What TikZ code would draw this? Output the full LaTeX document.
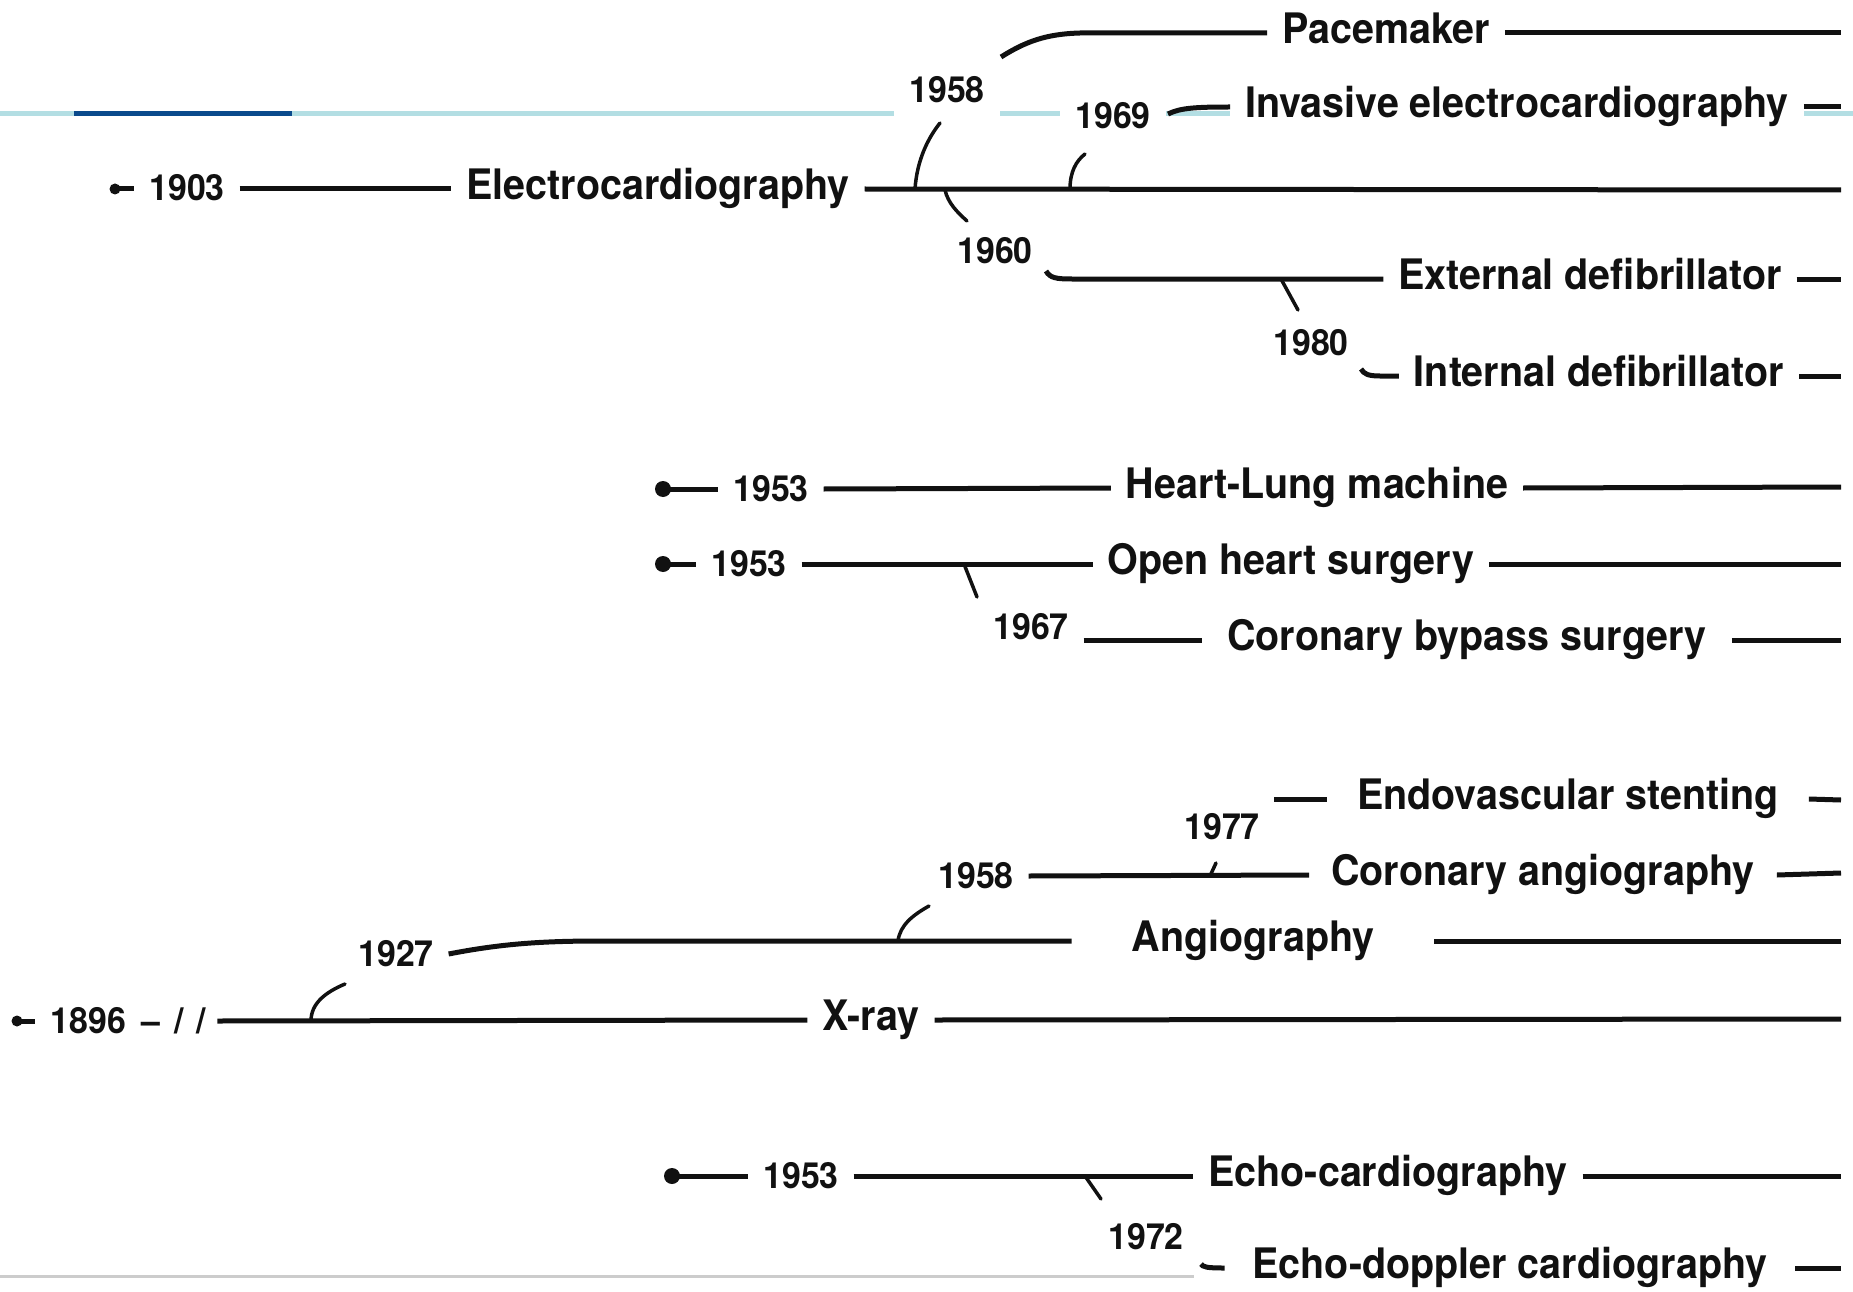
\documentclass[tikz,border=0pt]{standalone}
\usepackage{fontspec}
\newfontfamily\heros{TeX Gyre Heros}[FakeStretch=0.94]
\definecolor{ink}{HTML}{111111}
\definecolor{paleband}{HTML}{B3DEE3}
\definecolor{deepband}{HTML}{0A4A8C}
\definecolor{rulegray}{HTML}{CCCCCC}
\begin{document}
\begin{tikzpicture}[x=1pt,y=-1pt,
  lbl/.style={font=\heros\bfseries\fontsize{42pt}{46pt}\selectfont, text=ink,
    text height=30pt, text depth=9pt, inner xsep=15pt, inner ysep=0pt,
    outer sep=0pt, fill=white},
  yr/.style={lbl, font=\heros\bfseries\fontsize{36pt}{40pt}\selectfont,
    text height=26pt, text depth=2pt},
  dotnode/.style={circle, fill=ink, inner sep=0pt, minimum size=16pt},
  smalldot/.style={dotnode, minimum size=11pt},
  stem/.style={draw=ink, line width=5pt},
  twig/.style={draw=ink, line width=3.5pt, line cap=round}]
\useasboundingbox (0,0) rectangle (1853,1292);

% header band and bottom rule
\draw[paleband, line width=5pt] (0,113.5) -- (1853,113.5);
\draw[deepband, line width=5pt] (74,113.5) -- (292,113.5);
\draw[rulegray, line width=3pt] (0,1276) -- (1194,1276);

% ---------- electrocardiography family ----------
\node[smalldot] (d1903) at (115,189) {};
\node[yr] (y1903) at (187,189) {1903};
\node[lbl] (ecg) at (658,189) {Electrocardiography};
\coordinate (ecgR) at (1841,190);

\node[yr, inner ysep=14pt] (y1958a) at (947,91) {1958};
\node[lbl] (pace) at (1386,33) {Pacemaker};
\coordinate (paceR) at (1841,33);

\node[yr, inner ysep=4pt] (y1969) at (1113,117) {1969};
\node[lbl, inner ysep=4pt] (inv) at (1517,107) {Invasive electrocardiography};
\coordinate (invR) at (1841,107);

\node[yr] (y1960) at (995,252) {1960};
\node[lbl] (ext) at (1590,279) {External defibrillator};
\coordinate (extR) at (1841,279);

\node[yr] (y1980) at (1311,343) {1980};
\node[lbl] (int) at (1599,376) {Internal defibrillator};
\coordinate (intR) at (1841,376);

% ---------- surgery family ----------
\node[dotnode] (d1953a) at (663,489) {};
\node[yr] (y1953a) at (771,489) {1953};
\node[lbl] (hl) at (1317,488) {Heart-Lung machine};
\coordinate (hlR) at (1841,487);

\node[dotnode] (d1953b) at (663,564) {};
\node[yr] (y1953b) at (749,564) {1953};
\node[lbl] (oh) at (1291,564) {Open heart surgery};
\coordinate (ohR) at (1841,564);

\node[yr] (y1967) at (1031,627) {1967};
\node[lbl, inner xsep=25pt] (cb) at (1467,640) {Coronary bypass surgery};
\coordinate (cbR) at (1841,640);

% ---------- imaging family ----------
\node[lbl, inner xsep=30pt] (ev) at (1568,799) {Endovascular stenting};
\coordinate (ev0) at (1274,799);
\coordinate (evR) at (1841,800);

\node[yr] (y1977) at (1222,827) {1977};
\node[yr] (y1958b) at (976,876) {1958};
\node[lbl, inner xsep=22pt] (ca) at (1543,875) {Coronary angiography};
\coordinate (caR) at (1841,873);

\node[yr] (y1927) at (396,954) {1927};
\node[lbl, inner xsep=60pt] (ag) at (1253,941) {Angiography};
\coordinate (agR) at (1841,941);

\node[smalldot] (d1896) at (17,1021) {};
\node[yr, inner xsep=12pt] (y1896) at (128,1021)
  {1896\hspace{16pt}–\hspace{14pt}/\hspace{12pt}/};
\node[lbl] (xr) at (871,1020) {X-ray};
\coordinate (xrR) at (1841,1019);

% ---------- ultrasound family ----------
\node[dotnode] (d1953c) at (672,1176) {};
\node[yr] (y1953c) at (801,1176) {1953};
\node[lbl] (ec) at (1388,1176) {Echo-cardiography};
\coordinate (ecR) at (1841,1176);

\node[yr] (y1972) at (1146,1237) {1972};
\node[lbl, inner xsep=28pt] (ed) at (1510,1268) {Echo-doppler cardiography};
\coordinate (edR) at (1841,1268);

% branch points and free ends
\coordinate (k58) at (915,189);   \coordinate (t58) at (940,123);
\coordinate (p58) at (1001,57);
\coordinate (k60) at (945,190);   \coordinate (t60) at (967,221);
\coordinate (h60) at (1046,271);
\coordinate (k80) at (1281,279);  \coordinate (t80) at (1298,310);
\coordinate (h80) at (1361,369);
\coordinate (k69) at (1070,189);  \coordinate (t69) at (1085,154);
\coordinate (h69) at (1168,114);
\coordinate (k67) at (964,564);   \coordinate (t67) at (977,597);
\coordinate (k77) at (1210,876);  \coordinate (t77) at (1216,863);
\coordinate (k58b) at (898,941);  \coordinate (t58b) at (929,906);
\coordinate (k27) at (311,1021);  \coordinate (t27) at (345,984);
\coordinate (k72) at (1085,1176); \coordinate (t72) at (1101,1199);
\coordinate (h72) at (1201,1264);

% ---------- connectors ----------
\draw[stem] (d1903.center) -- (y1903.west);
\draw[stem] (y1903.east) -- (ecg.west);
\draw[stem] (ecg.east) -- (ecgR);
\draw[twig] (k58) .. controls (917,160) and (928,138) .. (t58);
\draw[stem] (p58) .. controls (1025,42) and (1045,34) .. (1080,33) -- (pace.west);
\draw[stem] (pace.east) -- (paceR);
\draw[twig] (k69) .. controls (1070,172) and (1076,161) .. (t69);
\draw[stem] (h69) .. controls (1180,108) and (1195,107) .. (inv.west);
\draw[stem] (inv.east) -- (invR);
\draw[twig] (k60) .. controls (948,203) and (957,212) .. (t60);
\draw[stem] (h60) .. controls (1050,278) and (1056,279) .. (1072,279) -- (ext.west);
\draw[stem] (ext.east) -- (extR);
\draw[twig] (k80) -- (t80);
\draw[stem] (h80) .. controls (1364,374) and (1368,376) .. (1380,376) -- (int.west);
\draw[stem] (int.east) -- (intR);

\draw[stem] (d1953a.center) -- (y1953a.west);
\draw[stem] (y1953a.east) -- (hl.west);
\draw[stem] (hl.east) -- (hlR);
\draw[stem] (d1953b.center) -- (y1953b.west);
\draw[stem] (y1953b.east) -- (oh.west);
\draw[stem] (oh.east) -- (ohR);
\draw[twig] (k67) -- (t67);
\draw[stem] (y1967.east |- cb.west) -- (cb.west);
\draw[stem] (cb.east) -- (cbR);

\draw[stem] (ev0) -- (ev.west);
\draw[stem] (ev.east) -- (evR);
\draw[stem] (y1958b.east) -- (ca.west);
\draw[twig] (k77) -- (t77);
\draw[stem] (ca.east) -- (caR);
\draw[stem] (y1927.east) .. controls (500,944) and (540,941) .. (600,941) -- (ag.west);
\draw[stem] (ag.east) -- (agR);
\draw[twig] (k58b) .. controls (900,925) and (913,915) .. (t58b);
\draw[stem, shorten >=4pt] (d1896.center) -- (y1896.west);
\draw[stem] (y1896.east) -- (xr.west);
\draw[stem] (xr.east) -- (xrR);
\draw[twig] (k27) .. controls (311,1003) and (326,992) .. (t27);

\draw[stem] (d1953c.center) -- (y1953c.west);
\draw[stem] (y1953c.east) -- (ec.west);
\draw[stem] (ec.east) -- (ecR);
\draw[twig] (k72) -- (t72);
\draw[stem] (h72) .. controls (1203,1267) and (1206,1268) .. (ed.west);
\draw[stem] (ed.east) -- (edR);
\end{tikzpicture}
\end{document}
